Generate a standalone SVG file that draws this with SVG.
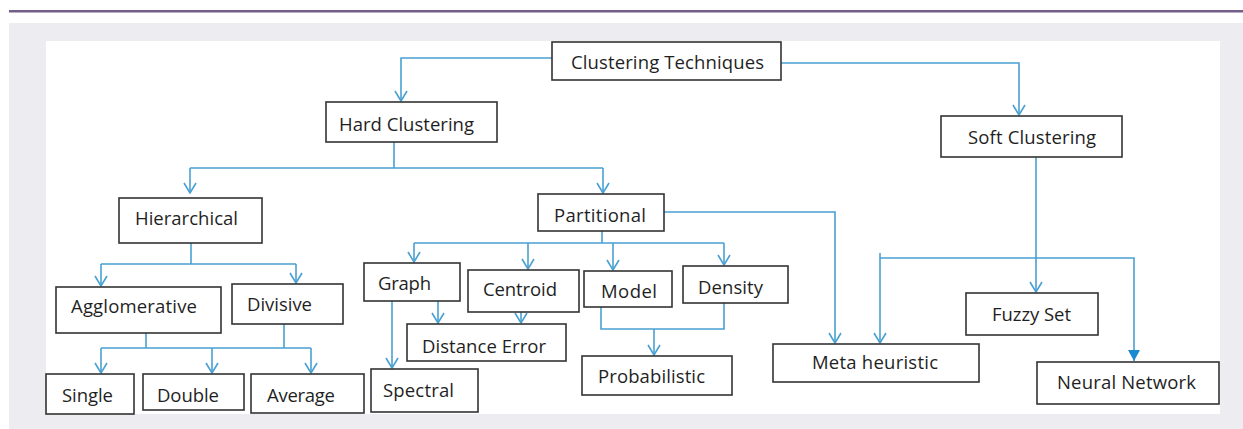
<svg xmlns="http://www.w3.org/2000/svg" width="1243" height="429" viewBox="0 0 1243 429">
<style>
.bg{fill:#edecf1}
.panel{fill:#ffffff}
.box{fill:#ffffff;stroke:#333333;stroke-width:1.6}
.lbl{font-family:"Open Sans","Liberation Sans",sans-serif;font-size:18.5px;fill:#1f1f1f}
.con{fill:none;stroke:#49a0d2;stroke-width:1.6}
</style>
<defs>
<marker id="chev" viewBox="-1 -7 12 14" markerWidth="12" markerHeight="14" refX="10" refY="0" orient="auto" markerUnits="userSpaceOnUse">
<path d="M0,-6 L10,0 L0,6" fill="none" stroke="#49a0d2" stroke-width="1.6"/>
</marker>
<marker id="tri" viewBox="-1 -7 13 14" markerWidth="13" markerHeight="14" refX="11" refY="0" orient="auto" markerUnits="userSpaceOnUse">
<path d="M0,-6 L11,0 L0,6 Z" fill="#1a8ad0"/>
</marker>
</defs>
<rect x="9" y="10" width="1234" height="2.5" fill="#715e8a"/>
<rect class="bg" x="9" y="23" width="1234" height="406"/>
<rect class="panel" x="46" y="41" width="1174" height="373"/>

<g id="connectors">
<path class="con" d="M552,58 H401 V101" marker-end="url(#chev)"/>
<path class="con" d="M781,63 H1019 V115" marker-end="url(#chev)"/>
<path class="con" d="M394,142 V168 M190,168 H603"/>
<path class="con" d="M190,168 V193" marker-end="url(#chev)"/>
<path class="con" d="M603,168 V193" marker-end="url(#chev)"/>
<path class="con" d="M664,212 H835 V343" marker-end="url(#chev)"/>
<path class="con" d="M1036,157 V292" marker-end="url(#chev)"/>
<path class="con" d="M880,253 V343" marker-end="url(#chev)"/>
<path class="con" d="M880,258 H1134 V361" marker-end="url(#tri)"/>
<path class="con" d="M191,243 V264 M101,264 H296"/>
<path class="con" d="M101,264 V286" marker-end="url(#chev)"/>
<path class="con" d="M296,264 V283" marker-end="url(#chev)"/>
<path class="con" d="M146,333 V348 M284,324 V348 M101,348 H311"/>
<path class="con" d="M101,348 V373" marker-end="url(#chev)"/>
<path class="con" d="M212,348 V373" marker-end="url(#chev)"/>
<path class="con" d="M311,348 V373" marker-end="url(#chev)"/>
<path class="con" d="M602,231 V243 M414,243 H724"/>
<path class="con" d="M414,243 V262" marker-end="url(#chev)"/>
<path class="con" d="M528,243 V269" marker-end="url(#chev)"/>
<path class="con" d="M613,243 V270" marker-end="url(#chev)"/>
<path class="con" d="M724,243 V265" marker-end="url(#chev)"/>
<path class="con" d="M392,301 V368" marker-end="url(#chev)"/>
<path class="con" d="M438,301 V323" marker-end="url(#chev)"/>
<path class="con" d="M521,312 V323" marker-end="url(#chev)"/>
<path class="con" d="M601,307 V329 H724 V303"/>
<path class="con" d="M654,329 V355" marker-end="url(#chev)"/>
</g>

<g id="clustering-techniques"><rect class="box" x="552" y="42" width="229" height="38"/><text class="lbl" x="571" y="69" textLength="193">Clustering Techniques</text></g>
<g id="hard-clustering"><rect class="box" x="326" y="102" width="171" height="40"/><text class="lbl" x="339" y="131" textLength="135">Hard Clustering</text></g>
<g id="soft-clustering"><rect class="box" x="941" y="116" width="181" height="41"/><text class="lbl" x="968" y="144" textLength="128">Soft Clustering</text></g>
<g id="hierarchical"><rect class="box" x="119" y="198" width="143" height="45"/><text class="lbl" x="135" y="225" textLength="103">Hierarchical</text></g>
<g id="partitional"><rect class="box" x="538" y="194" width="126" height="37"/><text class="lbl" x="554" y="222" textLength="92">Partitional</text></g>
<g id="agglomerative"><rect class="box" x="56" y="287" width="165" height="46"/><text class="lbl" x="71" y="313" textLength="126">Agglomerative</text></g>
<g id="divisive"><rect class="box" x="232" y="284" width="111" height="40"/><text class="lbl" x="247" y="311" textLength="65">Divisive</text></g>
<g id="single"><rect class="box" x="46" y="374" width="88" height="40"/><text class="lbl" x="62" y="402" textLength="51">Single</text></g>
<g id="double"><rect class="box" x="143" y="374" width="101" height="36"/><text class="lbl" x="157" y="402" textLength="62">Double</text></g>
<g id="average"><rect class="box" x="251" y="374" width="113" height="39"/><text class="lbl" x="267" y="402" textLength="68">Average</text></g>
<g id="graph"><rect class="box" x="364" y="263" width="96" height="38"/><text class="lbl" x="378" y="290" textLength="53">Graph</text></g>
<g id="centroid"><rect class="box" x="468" y="270" width="111" height="42"/><text class="lbl" x="483" y="296" textLength="74">Centroid</text></g>
<g id="model"><rect class="box" x="584" y="271" width="88" height="36"/><text class="lbl" x="601" y="298" textLength="56">Model</text></g>
<g id="density"><rect class="box" x="683" y="266" width="105" height="37"/><text class="lbl" x="698" y="294" textLength="65">Density</text></g>
<g id="distance-error"><rect class="box" x="407" y="324" width="159" height="37"/><text class="lbl" x="422" y="353" textLength="124">Distance Error</text></g>
<g id="spectral"><rect class="box" x="371" y="369" width="107" height="43"/><text class="lbl" x="383" y="397" textLength="71">Spectral</text></g>
<g id="probabilistic"><rect class="box" x="582" y="356" width="150" height="39"/><text class="lbl" x="598" y="383" textLength="107">Probabilistic</text></g>
<g id="meta-heuristic"><rect class="box" x="773" y="344" width="206" height="38"/><text class="lbl" x="812" y="369" textLength="126">Meta heuristic</text></g>
<g id="fuzzy-set"><rect class="box" x="966" y="293" width="132" height="42"/><text class="lbl" x="992" y="321" textLength="79">Fuzzy Set</text></g>
<g id="neural-network"><rect class="box" x="1037" y="362" width="182" height="42"/><text class="lbl" x="1057" y="389" textLength="139">Neural Network</text></g>
</svg>
